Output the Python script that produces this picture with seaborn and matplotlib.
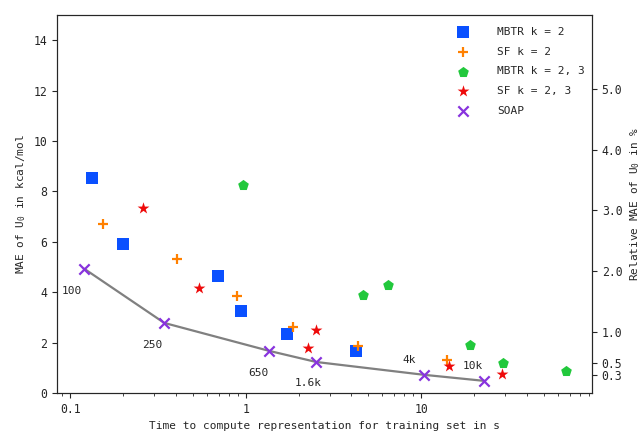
import numpy as np
import pandas as pd
import matplotlib
matplotlib.use("Agg")
import matplotlib.pyplot as plt
import seaborn as sns

# ---- data ----
mbtr2_t = [0.133, 0.200, 0.697, 0.943, 1.72, 4.26]
mbtr2_mae = [8.55, 5.93, 4.65, 3.26, 2.35, 1.67]
sf2_t = [0.154, 0.407, 0.895, 1.865, 4.37, 14.06]
sf2_mae = [6.72, 5.33, 3.86, 2.63, 1.87, 1.31]
mbtr23_t = [0.968, 4.67, 6.49, 19.0, 29.3, 67.0]
mbtr23_mae = [8.27, 3.90, 4.30, 1.91, 1.19, 0.88]
sf23_t = [0.261, 0.543, 2.27, 2.52, 14.3, 29.0]
sf23_mae = [7.36, 4.18, 1.79, 2.51, 1.07, 0.76]
soap_t = [0.120, 0.343, 1.36, 2.52, 10.4, 22.9]
soap_mae = [4.93, 2.78, 1.67, 1.23, 0.72, 0.48]
size_labels = ["100", "250", "650", "1.6k", "4k", "10k"]
right_ticks = [0.3, 0.5, 1.0, 2.0, 3.0, 4.0, 5.0]
kcal_per_percent = 2.414

series = ["MBTR k = 2", "SF k = 2", "MBTR k = 2, 3", "SF k = 2, 3", "SOAP"]
colors = ["#0a50ff", "#ff8000", "#22c83c", "#ee0a0a", "#8833dd"]
markers = ["s", "+", "p", "*", "x"]

df = pd.concat([
    pd.DataFrame({"t": mbtr2_t, "mae": mbtr2_mae, "method": series[0]}),
    pd.DataFrame({"t": sf2_t, "mae": sf2_mae, "method": series[1]}),
    pd.DataFrame({"t": mbtr23_t, "mae": mbtr23_mae, "method": series[2]}),
    pd.DataFrame({"t": sf23_t, "mae": sf23_mae, "method": series[3]}),
    pd.DataFrame({"t": soap_t, "mae": soap_mae, "method": series[4]}),
], ignore_index=True)

sns.set_style("ticks")
plt.rcParams["font.family"] = ["DejaVu Sans Mono"]
plt.rcParams["mathtext.fontset"] = "custom"
plt.rcParams["mathtext.rm"] = "DejaVu Sans Mono"
plt.rcParams["mathtext.it"] = "DejaVu Sans Mono"
plt.rcParams["font.size"] = 8

fig = plt.figure(figsize=(6.41, 4.34), dpi=100)
ax = fig.add_axes([0.089, 0.0945, 0.8346, 0.871])

sns.lineplot(x=soap_t, y=soap_mae, ax=ax, color="#808080", lw=1.6, sort=False, zorder=1)

for s, c, m in zip(series, colors, markers):
    sub = df[df["method"] == s]
    if m in ("+", "x"):
        sns.scatterplot(data=sub, x="t", y="mae", ax=ax, color=c, marker=m,
                        s=55, linewidth=1.6, label=s, zorder=3)
    else:
        sns.scatterplot(data=sub, x="t", y="mae", ax=ax, color=c, marker=m,
                        s=65 if m != "*" else 80, linewidth=0, label=s, zorder=3)

ax.set_xscale("log")
ax.set_xlim(0.084, 94)
ax.set_ylim(0, 15)
ax.set_yticks([0, 2, 4, 6, 8, 10, 12, 14])
ax.set_xticks([0.1, 1, 10])
ax.set_xticklabels(["0.1", "1", "10"])
ax.set_xlabel("Time to compute representation for training set in s")
ax.set_ylabel("MAE of $U_0$ in kcal/mol")
ax.tick_params(labelsize=8.3)

offsets = [(-9, -16), (-9, -16), (-8, -16), (-6, -15), (-11, 11), (-8, 11)]
for t, m, lab, off in zip(soap_t, soap_mae, size_labels, offsets):
    ax.annotate(lab, (t, m), xytext=off, textcoords="offset points",
                ha="center", va="center", fontsize=8)

leg = ax.legend(loc="upper left", bbox_to_anchor=(0.7193, 0.995), frameon=False,
                handletextpad=2.06, labelspacing=0.88, fontsize=8)

ax2 = ax.twinx()
ax2.set_ylim(0, 15 / kcal_per_percent)
ax2.set_yticks(right_ticks)
ax2.set_yticklabels([f"{v:.1f}" for v in right_ticks])
ax2.set_ylabel("Relative MAE of $U_0$ in %")
ax2.tick_params(labelsize=8.3)

fig.savefig("out.png", dpi=100)
